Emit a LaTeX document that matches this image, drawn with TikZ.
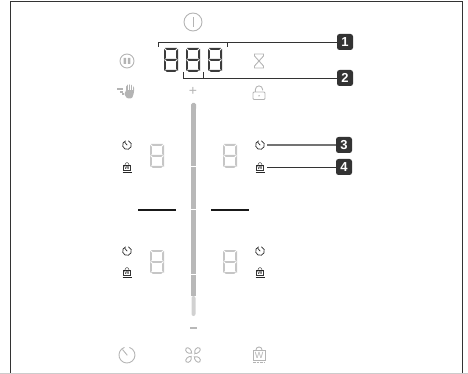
\documentclass[tikz,border=0pt]{standalone}
\usepackage{fontspec}
\setsansfont{Liberation Sans}
\usetikzlibrary{positioning,calc}
\definecolor{panelink}{HTML}{333333}
\definecolor{icongray}{HTML}{B4B4B4}
\definecolor{sliderfill}{HTML}{B8B8B8}
\definecolor{segdark}{HTML}{3C3C3C}
\definecolor{seglight}{HTML}{C6C6C6}

\tikzset{
  %% seven segment digit, origin at its upper left corner
  segdigit/.pic={
    \foreach \py in {0.5,11.5,22.5}
      \draw[pic actions] (2.2,\py) -- (11.8,\py) -- (11,\py+.8) -- (3,\py+.8) -- cycle;
    \foreach \px/\sx in {0.5/1,13.5/-1}
      \foreach \py in {2,13} {
        \draw[pic actions] (\px,\py) -- (\px+\sx*.8,\py+.8) -- (\px+\sx*.8,\py+7.8) -- (\px,\py+8.6) -- cycle;
      }
  },
  timer/.pic={
    \draw[pic actions] (-2.5,-7.6) arc[start angle=-108, end angle=-432, radius=8];
    \draw[pic actions] (-4.5,-5.5) -- (0.3,0.3);
  },
  pics/bag/.style={code={
    \draw[pic actions] (-6,-3.5) rectangle (6,6);
    \draw[pic actions] (-3.2,-3.5) arc[start angle=180, end angle=0, x radius=3.2, y radius=-3.6];
    \node[font=\sffamily\fontsize{9}{9}\selectfont, text=#1, inner sep=0pt, transform shape] (w) at (0,1.3) {W};
  }},
  fan/.pic={
    \foreach \ang in {40,130,220,310}
      \draw[pic actions, rotate=\ang] (3,0) .. controls (5,-4.5) and (11,-5) .. (12,-1)
        .. controls (12,2.5) and (5,3) .. cycle;
  },
  hourglass/.pic={
    \draw[pic actions] (-4.5,-7) -- (4.5,-7) -- (4.5,-5) -- (-4.5,5) -- (-4.5,7) -- (4.5,7) -- (4.5,5) -- (-4.5,-5) -- cycle;
  },
  padlock/.pic={
    \draw[pic actions, rounded corners=1pt] (-6,-1) rectangle (6,6.5);
    \draw[pic actions] (-3.6,-1) -- (-3.6,-3.5) arc[start angle=180, end angle=0, x radius=3.6, y radius=-3.6] -- (3.6,-2.6);
    \fill[icongray] (0,2.8) circle (0.8);
  },
  %% hand with its fingers, and the dashes that point at it
  stophand/.pic={
    \fill[icongray, rounded corners=1.2pt] (-2,0) -- (-2,-6) -- (0,-6) -- (0,-7.5) -- (2,-7.5) -- (2,-7) -- (4,-7) -- (4,-6) -- (6,-5)
      -- (6,1) -- (4,7) -- (-1,7) -- (-4,2) -- cycle;
    \foreach \fx in {0,2,4}
      \draw[white, line width=.4pt] (\fx,-8) -- (\fx,-1);
    \fill[icongray] (-11,-3.5) rectangle (-5,-1.5);
    \fill[icongray] (-8,-0.5) rectangle (-5,1.2);
    \fill[icongray] (-6,2) rectangle (-4.5,3.5);
  },
}

\begin{document}
\begin{tikzpicture}[
  x=1pt, y=-1pt,
  soft/.style={draw=icongray, line width=.9pt},
  crisp/.style={draw=black!85, line width=.7pt},
  crispbag/.style={draw=black!80, line width=.45pt},
  litseg/.style={draw=segdark, line width=1pt},
  dimseg/.style={draw=seglight, line width=1pt},
  slide/.style={fill=sliderfill, draw=none},
  badge/.style={fill=panelink, rounded corners=2.5pt, minimum size=16pt, inner sep=0pt,
                text=white, font=\sffamily\bfseries\fontsize{13}{13}\selectfont},
  leader/.style={draw=panelink, line width=.9pt},
  zonebar/.style={draw=black!90, line width=1.4pt},
  anchorbox/.style={minimum size=14pt, inner sep=0pt},
]
\useasboundingbox (0,0) rectangle (468,374);

%% Rahmen
\draw[panelink, line width=1pt] (10,374) -- (10,1.5) -- (462.5,1.5) -- (462.5,374);
\draw[black!20, line width=1pt] (0,373) -- (468,373);

%% Obere Symbole
\node[circle, soft, minimum size=18pt, inner sep=0pt] (power) at (193,22) {};
\draw[soft] (power.center) ++(0,-5) -- ++(0,10);
\node[circle, soft, minimum size=14pt, inner sep=0pt] (pause) at (127,61) {};
\fill[icongray] (123.7,58) rectangle (126.2,64) (127.8,58) rectangle (130.3,64);
\pic at (128,91.5) {stophand};
\pic[soft] at (259,61) {hourglass};
\pic[soft] at (259,93) {padlock};
\node[icongray, font=\sffamily\fontsize{14}{14}\selectfont, inner sep=0pt] (plus) at (193,91.5) {+};

%% Anzeige 888
\foreach \dx in {164,186,208}
  \pic[litseg] at (\dx,48) {segdigit};

%% Schieberegler
\fill[slide, rounded corners=1.5pt] (191,103) rectangle (196,110);
\fill[slide] (191,106) rectangle (196,166);
\fill[slide] (191,167) rectangle (196,209);
\fill[slide] (191,210) rectangle (196,274);
\fill[slide] (191,275) rectangle (196,296);
\fill[black!18, rounded corners=2pt] (191.5,296) rectangle (195.5,316);
\node[fill=sliderfill, minimum width=7pt, minimum height=1.4pt, inner sep=0pt] (minus) at (193.5,328) {};

%% Kochzonen
\foreach \dx in {150,223}
  \foreach \dy in {144,250}
    \pic[dimseg] at (\dx,\dy) {segdigit};
\draw[zonebar] (138,210) -- (176,210);
\draw[zonebar] (211,210) -- (249,210);

%% Kleine Symbole der Zonen
\foreach \ix in {127,260}
  \foreach \iy in {145,251}
    \pic[crisp, scale=.55] at (\ix,\iy) {timer};
\foreach \ix in {127,260}
  \foreach \iy in {167,272} {
    \pic[crispbag, scale=.62] at (\ix,\iy) {bag=black};
    \draw[crisp] (\ix-4.5,\iy+5.5) -- (\ix+4.5,\iy+5.5);
  }

%% Untere Symbole
\pic[soft] at (127,355) {timer};
\pic[soft, scale=.8] at (193,355) {fan};
\pic[soft] at (259,354) {bag=icongray};
\draw[soft, dashed, dash pattern=on 2.5pt off 1pt] (253,362.5) -- (265,362.5);

%% Nummern
\node[badge] (badgeA) at (345,42) {1};
\node[badge] (badgeB) at (345,78) {2};
\node[badge] (badgeC) at (344,145) {3};
\node[badge] (badgeD) at (344,167) {4};

%% Hinweislinien
\coordinate (braceAl) at (158.7,47);
\coordinate (braceAr) at (227.7,47);
\coordinate (braceBl) at (183,72);
\coordinate (braceBr) at (203,72);
\node[anchorbox] (timerR) at (260,145) {};
\node[anchorbox] (bagR) at (260,167) {};
\draw[leader] (braceAl) |- (badgeA.west);
\draw[leader] (braceAr) -- (braceAr |- badgeA.west);
\draw[leader] (braceBl) |- (badgeB.west);
\draw[leader] (braceBr) -- (braceBr |- badgeB.west);
\draw[leader, draw=black!55, line width=1.2pt] (timerR.east) -- (badgeC.west);
\draw[leader] (bagR.east) -- (badgeD.west);

\end{tikzpicture}
\end{document}
